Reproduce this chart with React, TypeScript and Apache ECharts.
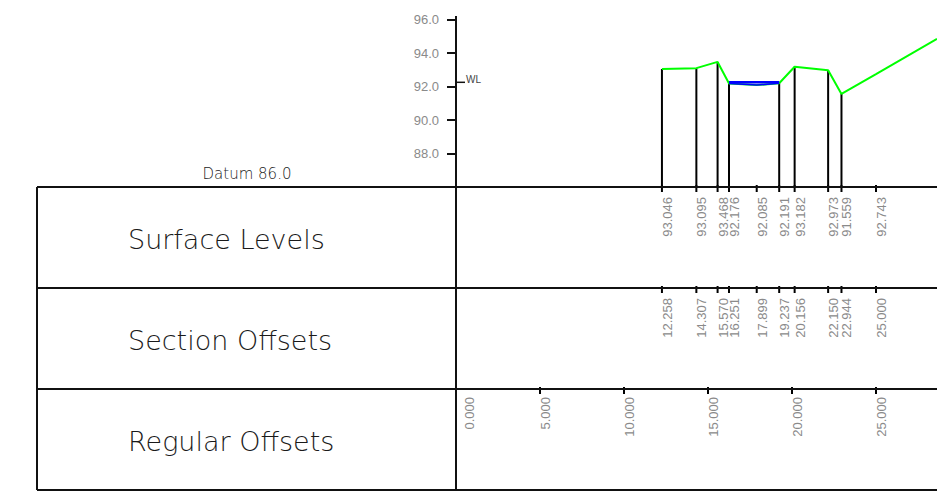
import React, { useEffect, useRef } from 'react';
import * as echarts from 'echarts';

// ---- data ----
const sectionOffsets = [12.258, 14.307, 15.57, 16.251, 17.899, 19.237, 20.156, 22.15, 22.944, 25.0];
const surfaceLevels = [93.046, 93.095, 93.468, 92.176, 92.085, 92.191, 93.182, 92.973, 91.559, 92.743];
const hasStation = [1, 1, 1, 1, 0, 1, 1, 1, 1, 0];
const regularOffsets = [0, 5, 10, 15, 20, 25];
const groundBeyond = [[28.63, 94.84]]; // ground line continues off the right edge
const waterIdx = [3, 4, 5];
const waterLevel = 92.25;
const datum = 86.0;
const yMax = 96;
const xMax = 28.63;
const rowTitles = ['Surface Levels', 'Section Offsets', 'Regular Offsets'];

const W = 937;
const H = 495;
const GRID_LEFT = 456;
const GRID_TOP = 19.5;
const TABLE_TOP = 187;
const ROW = 101;
const TABLE_LEFT = 37;
const LABEL_FONT = 'Liberation Sans';
const TITLE_FONT = 'DejaVu Sans';
const GRAY = '#8a8a8a';
const INK = '#111';

export default function App() {
  const ref = useRef<HTMLDivElement>(null);
  useEffect(() => {
    const chart = echarts.init(ref.current!, null, { renderer: 'svg' });

    const ground = sectionOffsets.map((x, i) => [x, surfaceLevels[i]]).concat(groundBeyond);
    const bed = waterIdx.map((i) => [sectionOffsets[i], surfaceLevels[i]]);
    const waterLine = [
      [sectionOffsets[waterIdx[0]], waterLevel],
      [sectionOffsets[waterIdx[waterIdx.length - 1]], waterLevel],
    ];
    const stations = sectionOffsets.map((x, i) => [x, surfaceLevels[i], hasStation[i]]);

    const tableLines: any[] = [];
    for (let r = 0; r <= 3; r++) {
      const y = TABLE_TOP + r * ROW;
      tableLines.push({
        type: 'line',
        shape: { x1: TABLE_LEFT, y1: y, x2: W, y2: y },
        style: { stroke: INK, lineWidth: 2 },
        z: 10,
      });
    }
    [TABLE_LEFT, GRID_LEFT].forEach((x) =>
      tableLines.push({
        type: 'line',
        shape: { x1: x, y1: TABLE_TOP, x2: x, y2: TABLE_TOP + 3 * ROW },
        style: { stroke: INK, lineWidth: 2 },
        z: 10,
      })
    );
    // the axis line runs a little above the top tick
    tableLines.push({
      type: 'line',
      shape: { x1: GRID_LEFT, y1: 16, x2: GRID_LEFT, y2: TABLE_TOP },
      style: { stroke: INK, lineWidth: 2 },
      z: 10,
    });
    const titles = rowTitles.map((t, r) => ({
      type: 'text',
      x: 128,
      y: TABLE_TOP + r * ROW + 52,
      style: {
        text: t,
        fill: '#1a1a1a',
        fontSize: 27,
        fontFamily: TITLE_FONT,
        fontWeight: 200,
        verticalAlign: 'middle',
        align: 'left',
      },
      z: 10,
    }));

    const option: any = {
      animation: false,
      grid: { left: GRID_LEFT, right: 0, top: GRID_TOP, bottom: H - TABLE_TOP, containLabel: false },
      xAxis: { type: 'value', min: 0, max: xMax, show: false },
      yAxis: {
        type: 'value',
        min: datum,
        max: yMax,
        interval: 2,
        axisLine: { show: true, lineStyle: { color: INK, width: 2 } },
        axisTick: { show: true, inside: false, length: 9, lineStyle: { color: INK, width: 2 } },
        axisLabel: {
          color: GRAY,
          fontSize: 13,
          fontFamily: LABEL_FONT,
          margin: 17,
          formatter: (v: number) => (v === datum ? '' : v.toFixed(1)),
        },
        splitLine: { show: false },
      },
      graphic: [
        ...tableLines,
        ...titles,
        {
          type: 'text',
          x: 247,
          y: 174,
          style: {
            text: 'Datum ' + datum.toFixed(1),
            fill: '#222',
            fontSize: 15,
            fontFamily: TITLE_FONT,
            fontWeight: 200,
            align: 'center',
            verticalAlign: 'middle',
          },
        },
      ],
      series: [
        {
          type: 'custom',
          z: 2,
          clip: false,
          data: stations,
          renderItem: (params: any, api: any) => {
            const x = api.value(0);
            const lvl = api.value(1);
            const stn = api.value(2);
            const top = api.coord([x, lvl]);
            const base = api.coord([x, datum]);
            const px = base[0];
            const y0 = base[1];
            const children: any[] = [];
            if (stn) {
              children.push({
                type: 'line',
                shape: { x1: px, y1: y0, x2: px, y2: top[1] },
                style: { stroke: '#000', lineWidth: 2 },
              });
            }
            for (let r = 0; r < 2; r++) {
              const ry = y0 + r * ROW;
              children.push({
                type: 'line',
                shape: { x1: px, y1: ry - 2, x2: px, y2: ry + 5 },
                style: { stroke: '#000', lineWidth: 2 },
              });
            }
            const texts = [lvl.toFixed(3), x.toFixed(3)];
            texts.forEach((t, r) =>
              children.push({
                type: 'text',
                x: px - 1,
                y: y0 + r * ROW + 10,
                rotation: Math.PI / 2,
                style: {
                  text: t,
                  fill: GRAY,
                  fontSize: 13,
                  fontFamily: LABEL_FONT,
                  align: 'right',
                  verticalAlign: 'top',
                },
              })
            );
            return { type: 'group', children };
          },
        },
        {
          type: 'custom',
          z: 2,
          clip: false,
          data: regularOffsets.map((v) => [v, datum]),
          renderItem: (params: any, api: any) => {
            const x = api.value(0);
            const base = api.coord([x, datum]);
            const px = base[0];
            const ry = base[1] + 2 * ROW;
            const shift = x === 0 ? 8 : 0;
            return {
              type: 'group',
              children: [
                {
                  type: 'line',
                  shape: { x1: px, y1: ry - 2, x2: px, y2: ry + 5 },
                  style: { stroke: '#000', lineWidth: 2 },
                },
                {
                  type: 'text',
                  x: px - 1 + shift,
                  y: ry + 8,
                  rotation: Math.PI / 2,
                  style: {
                    text: x.toFixed(3),
                    fill: GRAY,
                    fontSize: 13,
                    fontFamily: LABEL_FONT,
                    align: 'right',
                    verticalAlign: 'top',
                  },
                },
              ],
            };
          },
        },
        {
          type: 'custom',
          z: 5,
          clip: false,
          data: [[0, waterLevel]],
          renderItem: (params: any, api: any) => {
            const p = api.coord([api.value(0), api.value(1)]);
            return {
              type: 'group',
              children: [
                {
                  type: 'line',
                  shape: { x1: p[0], y1: p[1], x2: p[0] + 9, y2: p[1] },
                  style: { stroke: INK, lineWidth: 1.5 },
                },
                {
                  type: 'text',
                  x: p[0] + 10,
                  y: p[1] + 2,
                  style: {
                    text: 'WL',
                    fill: '#444',
                    fontSize: 10,
                    fontFamily: LABEL_FONT,
                    align: 'left',
                    verticalAlign: 'bottom',
                  },
                },
              ],
            };
          },
        },
        {
          type: 'line',
          z: 3,
          data: ground,
          symbol: 'none',
          lineStyle: { color: '#00ff00', width: 2 },
          silent: true,
        },
        {
          type: 'line',
          z: 4,
          data: bed,
          symbol: 'none',
          lineStyle: { color: '#0000ff', width: 1.5 },
          silent: true,
        },
        {
          type: 'line',
          z: 4,
          data: waterLine,
          symbol: 'none',
          lineStyle: { color: '#0000ff', width: 2.5 },
          silent: true,
        },
      ],
    };
    chart.setOption(option);
    return () => chart.dispose();
  }, []);

  return (
    <div
      ref={ref}
      style={{ position: 'fixed', left: 0, top: 0, width: W, height: H, background: '#fff' }}
    />
  );
}
